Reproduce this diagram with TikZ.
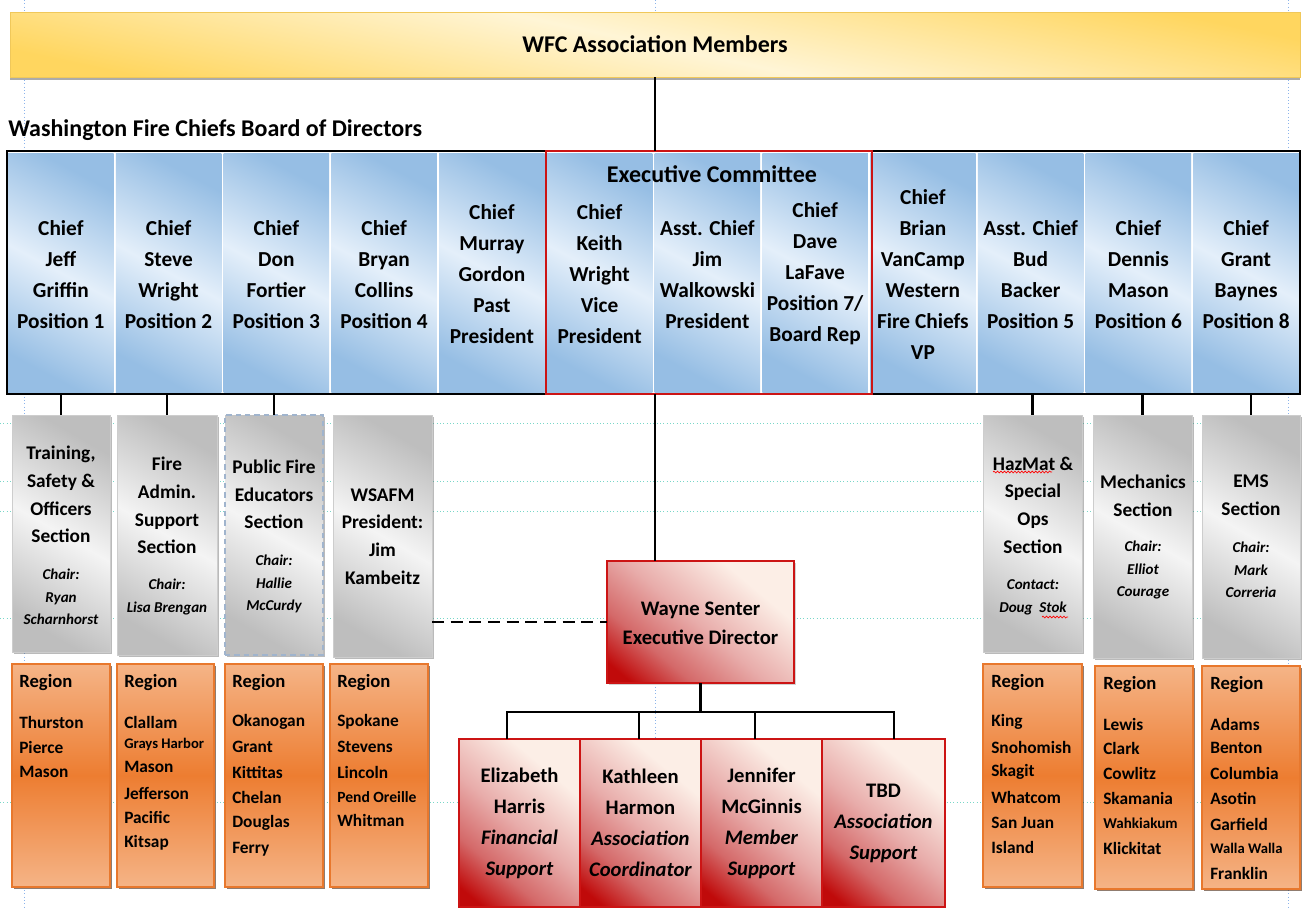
\documentclass[tikz,border=0pt]{standalone}
\usepackage{fontspec}
\setmainfont{Carlito}
\usetikzlibrary{fit,shadows,decorations.pathmorphing,calc}

\definecolor{blueE}{RGB}{150,190,228}
\definecolor{blueL}{RGB}{228,239,250}
\definecolor{goldE}{RGB}{255,214,95}
\definecolor{goldL}{RGB}{255,245,214}
\definecolor{goldB}{RGB}{240,200,90}
\definecolor{grayE}{RGB}{190,190,190}
\definecolor{grayL}{RGB}{244,244,244}
\definecolor{grayB}{RGB}{205,205,205}
\definecolor{orgT}{RGB}{245,180,135}
\definecolor{orgM}{RGB}{237,125,49}
\definecolor{orgB}{RGB}{232,120,45}
\definecolor{redD}{RGB}{192,10,10}
\definecolor{redQ}{RGB}{212,105,105}
\definecolor{redM}{RGB}{232,172,170}
\definecolor{redL}{RGB}{252,238,230}
\definecolor{redB}{RGB}{204,20,20}
\definecolor{guideH}{RGB}{120,215,200}
\definecolor{guideV}{RGB}{140,180,235}
\definecolor{dashB}{RGB}{160,180,205}

\pgfdeclareverticalshading{wfred}{100bp}{color(0bp)=(redD); color(20bp)=(redD); color(33bp)=(redQ); color(49bp)=(redM); color(70bp)=(redL); color(100bp)=(redL)}

\newcommand\wfBig{\fontsize{18}{22}\selectfont\bfseries}
\newcommand\wfCol{\fontsize{16}{23.25}\selectfont\bfseries}
\newcommand\wfSec{\fontsize{14.5}{20.8}\selectfont\bfseries}
\newcommand\wfChair{\fontsize{11.3}{17}\selectfont\bfseries\itshape}
\newcommand\wfReg{\fontsize{14}{17}\selectfont\bfseries}
\newcommand\wfItem{\fontsize{13}{17}\selectfont\bfseries}
\newcommand\wfSmall{\fontsize{11}{14}\selectfont\bfseries}
\newcommand\wfStaff{\fontsize{15.5}{23.25}\selectfont\bfseries}
\newcommand\wfWayne{\fontsize{15.5}{21.75}\selectfont\bfseries}

\tikzset{
  bx/.style={inner sep=0pt, outer sep=0pt},
  txt/.style={inner sep=0pt, align=center},
  shad/.style={drop shadow={shadow xshift=1.8pt, shadow yshift=-1.8pt, fill=black!60, opacity=.45}},
  banner/.style={bx, draw=goldB, line width=0.4pt, top color=goldE, bottom color=goldE, middle color=goldL, shading angle=-12,
    drop shadow={shadow xshift=0pt, shadow yshift=-2.5pt, fill=black!60, opacity=.55}},
  col/.style={bx, top color=blueE, bottom color=blueE, middle color=blueL, shading angle=-28},
  secbox/.style={bx, draw=grayB, line width=0.6pt, top color=grayE, bottom color=grayE, middle color=grayL, shading angle=-30, shad},
  sectxt/.style={txt, font=\wfSec},
  chair/.style={txt, font=\wfChair},
  regbox/.style={bx, draw=orgB, line width=0.8pt, top color=orgT, bottom color=orgT, middle color=orgM,
    drop shadow={shadow xshift=1.8pt, shadow yshift=-1.8pt, fill=black!70!orgM, opacity=.6}},
  regtitle/.style={anchor=west, inner sep=0pt, font=\wfReg},
  item/.style={anchor=west, inner sep=0pt, font=\wfItem},
  redbox/.style={bx, draw=redB, line width=1pt, shading=wfred, shading angle=-40},
  conn/.style={draw=black, line width=1.6pt},
  guide/.style={line width=0.5pt, dotted},
  squig/.style={draw=red, line width=0.5pt, decorate, decoration={snake, amplitude=0.7pt, segment length=2.6pt}}
}

\begin{document}
\begin{tikzpicture}[x=0.75pt,y=-0.75pt]
\useasboundingbox (0,0) rectangle (1302,908);
\fill[white] (0,0) rectangle (1302,908);

% faint guide lines
\foreach \y in {423,481,511,618,802} \draw[guide, guideH] (0,\y) -- (1302,\y);
\foreach \x in {24,655,1288} \draw[guide, guideV] (\x,0) -- (\x,908);

% banner
\node[banner, fit={(10,12)(1300,77)}] (banner) {};
\node[txt, font=\wfBig] (bannertxt) at (banner) {WFC Association Members};
\node[anchor=west, inner sep=0pt, font=\wfBig] (title) at (8,130) {Washington Fire Chiefs Board of Directors};

% board columns
\foreach \t [count=\i from 0] in {
  {Chief\\Jeff\\Griffin\\Position 1},
  {Chief\\Steve\\Wright\\Position 2},
  {Chief\\Don\\Fortier\\Position 3},
  {Chief\\Bryan\\Collins\\Position 4},
  {Chief\\Murray\\Gordon\\Past\\President},
  {Chief\\Keith\\Wright\\Vice\\President},
  {Asst. Chief\\Jim\\Walkowski\\President},
  {Chief\\Dave\\LaFave\\Position 7/\\Board Rep},
  {Chief\\Brian\\VanCamp\\Western\\Fire Chiefs\\VP},
  {Asst. Chief\\Bud\\Backer\\Position 5},
  {Chief\\Dennis\\Mason\\Position 6},
  {Chief\\Grant\\Baynes\\Position 8}}{
  \node[col, fit={({7+107.75*\i+1.2},153) ({7+107.75*(\i+1)-1.2},392)}] (c\i) {};
  \node[txt, font=\wfCol] (ct\i) at ([yshift=-1.2pt]c\i.center) {\t};
}
\node[bx, draw=black, line width=2.2pt, fit={(7,151)(1300,394)}] (board) {};
\node[bx, draw=redB, line width=1.1pt, fit={(546,151)(872,394)}] (exec) {};
\node[txt, font=\wfBig] (exectitle) at (712,174) {Executive Committee};

% sections
\node[secbox, fit={(12,415)(110,652)}] (s1) {};
\node[secbox, fit={(117,415)(217,655)}] (s2) {};
\node[secbox, draw=dashB, dash pattern=on 4pt off 3pt, line width=0.9pt, fit={(225,415)(323,655)}] (s3) {};
\node[secbox, fit={(333,415)(432,657)}] (s4) {};
\node[secbox, fit={(983,415)(1082,652)}] (s5) {};
\node[secbox, fit={(1093,415)(1192,658)}] (s6) {};
\node[secbox, fit={(1202,415)(1300,658)}] (s7) {};

\node[sectxt] (s1a) at (61,494.5) {Training,\\Safety \&\\Officers\\Section};
\node[chair] (s1b) at (61,597) {Chair:\\Ryan\\Scharnhorst};
\node[sectxt] (s2a) at (167,505.5) {Fire\\Admin.\\Support\\Section};
\node[chair] (s2b) at (167,597) {Chair:\\Lisa Brengan};
\node[sectxt] (s3a) at (274,494.5) {Public Fire\\Educators\\Section};
\node[chair] (s3b) at (274,584) {Chair:\\Hallie\\McCurdy};
\node[sectxt] (s4a) at (382.5,536.5) {WSAFM\\President:\\Jim\\Kambeitz};
\node[sectxt] (s5a) at (1033,505) {HazMat \&\\Special\\Ops\\Section};
\node[chair] (s5b) at (1033,597.5) {Contact:\\Doug\ \ Stok};
\node[sectxt] (s6a) at (1143,495.5) {Mechanics\\Section};
\node[chair] (s6b) at (1143,570) {Chair:\\Elliot\\Courage};
\node[sectxt] (s7a) at (1251,495.5) {EMS\\Section};
\node[chair] (s7b) at (1251,570) {Chair:\\Mark\\Correria};

\draw[squig] (993,472) -- (1052,472);
\draw[squig] (1042,617) -- (1068,617);

% regions
\node[regbox, fit={(12,664)(110,887)}] (r1) {};
\node[regbox, fit={(117,664)(214,887)}] (r2) {};
\node[regbox, fit={(225,664)(323,887)}] (r3) {};
\node[regbox, fit={(330,664)(428,887)}] (r4) {};
\node[regbox, fit={(983,664)(1082,887)}] (r5) {};
\node[regbox, fit={(1095,666)(1193,889)}] (r6) {};
\node[regbox, fit={(1202,666)(1300,889)}] (r7) {};

\node[regtitle] (r1t) at (19,683) {Region};
\node[regtitle] (r2t) at (124,683) {Region};
\node[regtitle] (r3t) at (232,683) {Region};
\node[regtitle] (r4t) at (337,683) {Region};
\node[regtitle] (r5t) at (991,683) {Region};
\node[regtitle] (r6t) at (1103,685) {Region};
\node[regtitle] (r7t) at (1210,685) {Region};

\foreach \y/\t [count=\k] in {722/Thurston,747/Pierce,772/Mason}
  \node[item] (r1-\k) at (19,\y) {\t};
\foreach \y/\t [count=\k] in {722/Clallam,744/{\wfSmall Grays Harbor},767/Mason,793/Jefferson,817/Pacific,843/Kitsap}
  \node[item] (r2-\k) at (124,\y) {\t};
\foreach \y/\t [count=\k] in {722/Okanogan,747/Grant,772/Kittitas,797/Chelan,823/Douglas,849/Ferry}
  \node[item] (r3-\k) at (232,\y) {\t};
\foreach \y/\t [count=\k] in {722/Spokane,747/Stevens,772/Lincoln,797/{\fontsize{11.7}{14}\selectfont Pend Oreille},820/Whitman}
  \node[item] (r4-\k) at (337,\y) {\t};
\foreach \y/\t [count=\k] in {722/King,747/Snohomish,772/Skagit,797/Whatcom,823/San Juan,847/Island}
  \node[item] (r5-\k) at (991,\y) {\t};
\foreach \y/\t [count=\k] in {724/Lewis,748/Clark,773/Cowlitz,798/Skamania,823/{\fontsize{11.3}{14}\selectfont Wahkiakum},848/Klickitat}
  \node[item] (r6-\k) at (1103,\y) {\t};
\foreach \y/\t [count=\k] in {724/Adams,748/Benton,773/Columbia,798/Asotin,824/Garfield,848/{\wfSmall Walla Walla},873/Franklin}
  \node[item] (r7-\k) at (1210,\y) {\t};

% executive director and staff
\node[redbox, fit={(607,561)(794,683)},
  drop shadow={shadow xshift=1.5pt, shadow yshift=-1.5pt, fill=black!50, opacity=.35}] (wayne) {};
\node[txt, font=\wfWayne] (waynet) at ([yshift=-0.8pt]wayne.center) {Wayne Senter\\Executive Director};
\node[redbox, fit={(459,739)(580,907)}] (st1) {};
\node[redbox, fit={(580,739)(701,907)}] (st2) {};
\node[redbox, fit={(701,739)(822,907)}] (st3) {};
\node[redbox, fit={(822,739)(945,907)}] (st4) {};
\node[txt, font=\wfStaff] (st1t) at (st1) {Elizabeth\\Harris\\\textit{Financial}\\\textit{Support}};
\node[txt, font=\wfStaff] (st2t) at (st2) {Kathleen\\Harmon\\\textit{Association}\\\textit{Coordinator}};
\node[txt, font=\wfStaff] (st3t) at (st3) {Jennifer\\McGinnis\\\textit{Member}\\\textit{Support}};
\node[txt, font=\wfStaff] (st4t) at (st4) {TBD\\\textit{Association}\\\textit{Support}};

% connectors
\coordinate (vx) at (655,0);
\draw[conn] (banner.south -| vx) -- (board.north -| vx);
\draw[conn] (exec.south -| vx) -- (wayne.north -| vx);
\foreach \s in {s1,s2,s3,s5,s6,s7} \draw[conn] (\s.north |- board.south) -- (\s.north);
\draw[conn, dash pattern=on 9pt off 5pt] (s4.east |- wayne.west) -- (wayne.west);

\coordinate (b1) at (507,712);
\coordinate (b2) at (639,712);
\coordinate (b3) at (755,712);
\coordinate (b4) at (894,712);
\draw[conn] (wayne.south) -- (wayne.south |- b1);
\draw[conn, line join=miter] (b1 |- st1.north) -- (b1) -- (b4) -- (b4 |- st4.north);
\draw[conn] (b2) -- (b2 |- st2.north);
\draw[conn] (b3) -- (b3 |- st3.north);
\end{tikzpicture}
\end{document}
